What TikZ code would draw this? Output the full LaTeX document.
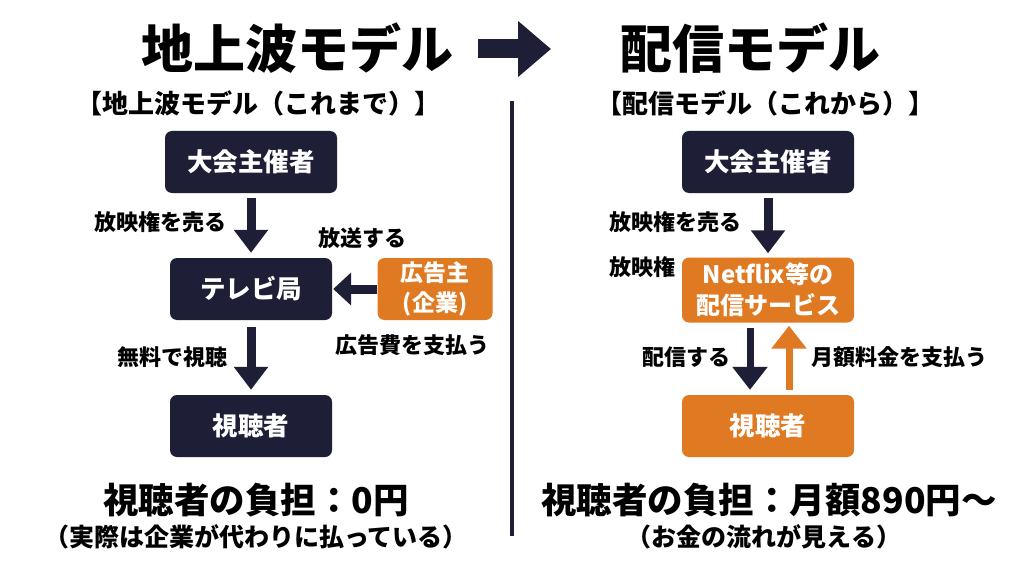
\documentclass[tikz,border=0pt]{standalone}
\usepackage{fontspec}
\setmainfont{Noto Sans CJK JP}
\usetikzlibrary{arrows.meta}
\definecolor{navy}{HTML}{1E1E36}
\definecolor{orng}{HTML}{E07A22}
\begin{document}
\begin{tikzpicture}[x=1pt,y=-1pt,
  every node/.style={inner sep=0pt,font=\bfseries},
  darkbox/.style={rounded corners=7pt,fill=navy,text=white,minimum width=172pt,minimum height=62pt,align=center,font=\bfseries\fontsize{25.5}{31}\selectfont},
  orbox/.style={darkbox,fill=orng},
  ttl/.style={font=\bfseries\fontsize{52}{60}\selectfont},
  sub/.style={font=\bfseries\fontsize{26}{30}\selectfont},
  lbl/.style={font=\bfseries\fontsize{22}{26}\selectfont},
  cost/.style={font=\bfseries\fontsize{35.5}{40}\selectfont},
  note/.style={font=\bfseries\fontsize{25}{28}\selectfont},
  darr/.style={navy,line width=9pt,-{Triangle[length=23pt,width=33pt]}},
  thinarr/.style={navy,line width=7pt,-{Triangle[length=23pt,width=34pt]}}]
\fill [white] (0,0) rectangle (1024,572);
\useasboundingbox (0,0) rectangle (1024,572);
\node [ttl] (ttl1) at (297,48) {地上波モデル};
\node [ttl] (ttl2) at (750,48) {配信モデル};
\coordinate (ba) at (478,49);
\coordinate (bb) at (551,49);
\draw [navy,line width=19pt,-{Triangle[length=33pt,width=54pt]}] (ba) -- (bb);
\node [sub] (sub1) at (258,103) {【地上波モデル（これまで）】};
\node [sub] (sub2) at (765,103) {【配信モデル（これから）】};
\coordinate (dv1) at (512,101);
\coordinate (dv2) at (512,536);
\draw [navy,line width=3.5pt] (dv1) -- (dv2);
\node [darkbox] (org1) at (251,162) {大会主催者};
\node [darkbox,minimum width=162pt] (tv) at (251,289) {テレビ局};
\node [orbox,minimum width=115pt,font=\bfseries\fontsize{23}{30}\selectfont] (ad) at (435,289) {広告主\\(企業)};
\node [darkbox,minimum width=162pt] (view1) at (251,426) {視聴者};
\draw [darr,shorten <=5pt,shorten >=5pt] (org1) -- (tv);
\draw [darr,shorten <=7pt,shorten >=5pt] (tv) -- (view1);
\draw [darr,-{Triangle[length=18pt,width=32pt]},shorten >=1pt] (ad) -- (tv);
\node [lbl] (l1) at (160,222) {放映権を売る};
\node [lbl] (l2) at (362,238) {放送する};
\node [lbl] (l3) at (412,345) {広告費を支払う};
\node [lbl] (l4) at (172,357) {無料で視聴};
\node [cost] (cost1) at (256,500) {視聴者の負担：0円};
\node [note] (note1) at (256,537) {（実際は企業が代わりに払っている）};
\node [darkbox] (org2) at (768,162) {大会主催者};
\node [orbox,minimum height=65pt,font=\bfseries\fontsize{24}{31}\selectfont] (nf) at (768,290) {Netflix等の\\配信サービス};
\node [orbox] (view2) at (768,426) {視聴者};
\draw [darr,shorten <=5pt,shorten >=4pt] (org2) -- (nf);
\draw [thinarr,shorten <=5pt,shorten >=5pt] ([xshift=-18pt]nf.south) -- ([xshift=-18pt]view2.north);
\draw [thinarr,orng,shorten <=5pt,shorten >=3pt] ([xshift=21pt]view2.north) -- ([xshift=21pt]nf.south);
\node [lbl] (r1) at (675,222) {放映権を売る};
\node [lbl] (r2) at (642,267) {放映権};
\node [lbl] (r3) at (686,357) {配信する};
\node [lbl] (r4) at (899,357) {月額料金を支払う};
\node [cost] (cost2) at (769,500) {視聴者の負担：月額890円～};
\node [note] (note2) at (764,537) {（お金の流れが見える）};
\end{tikzpicture}
\end{document}
